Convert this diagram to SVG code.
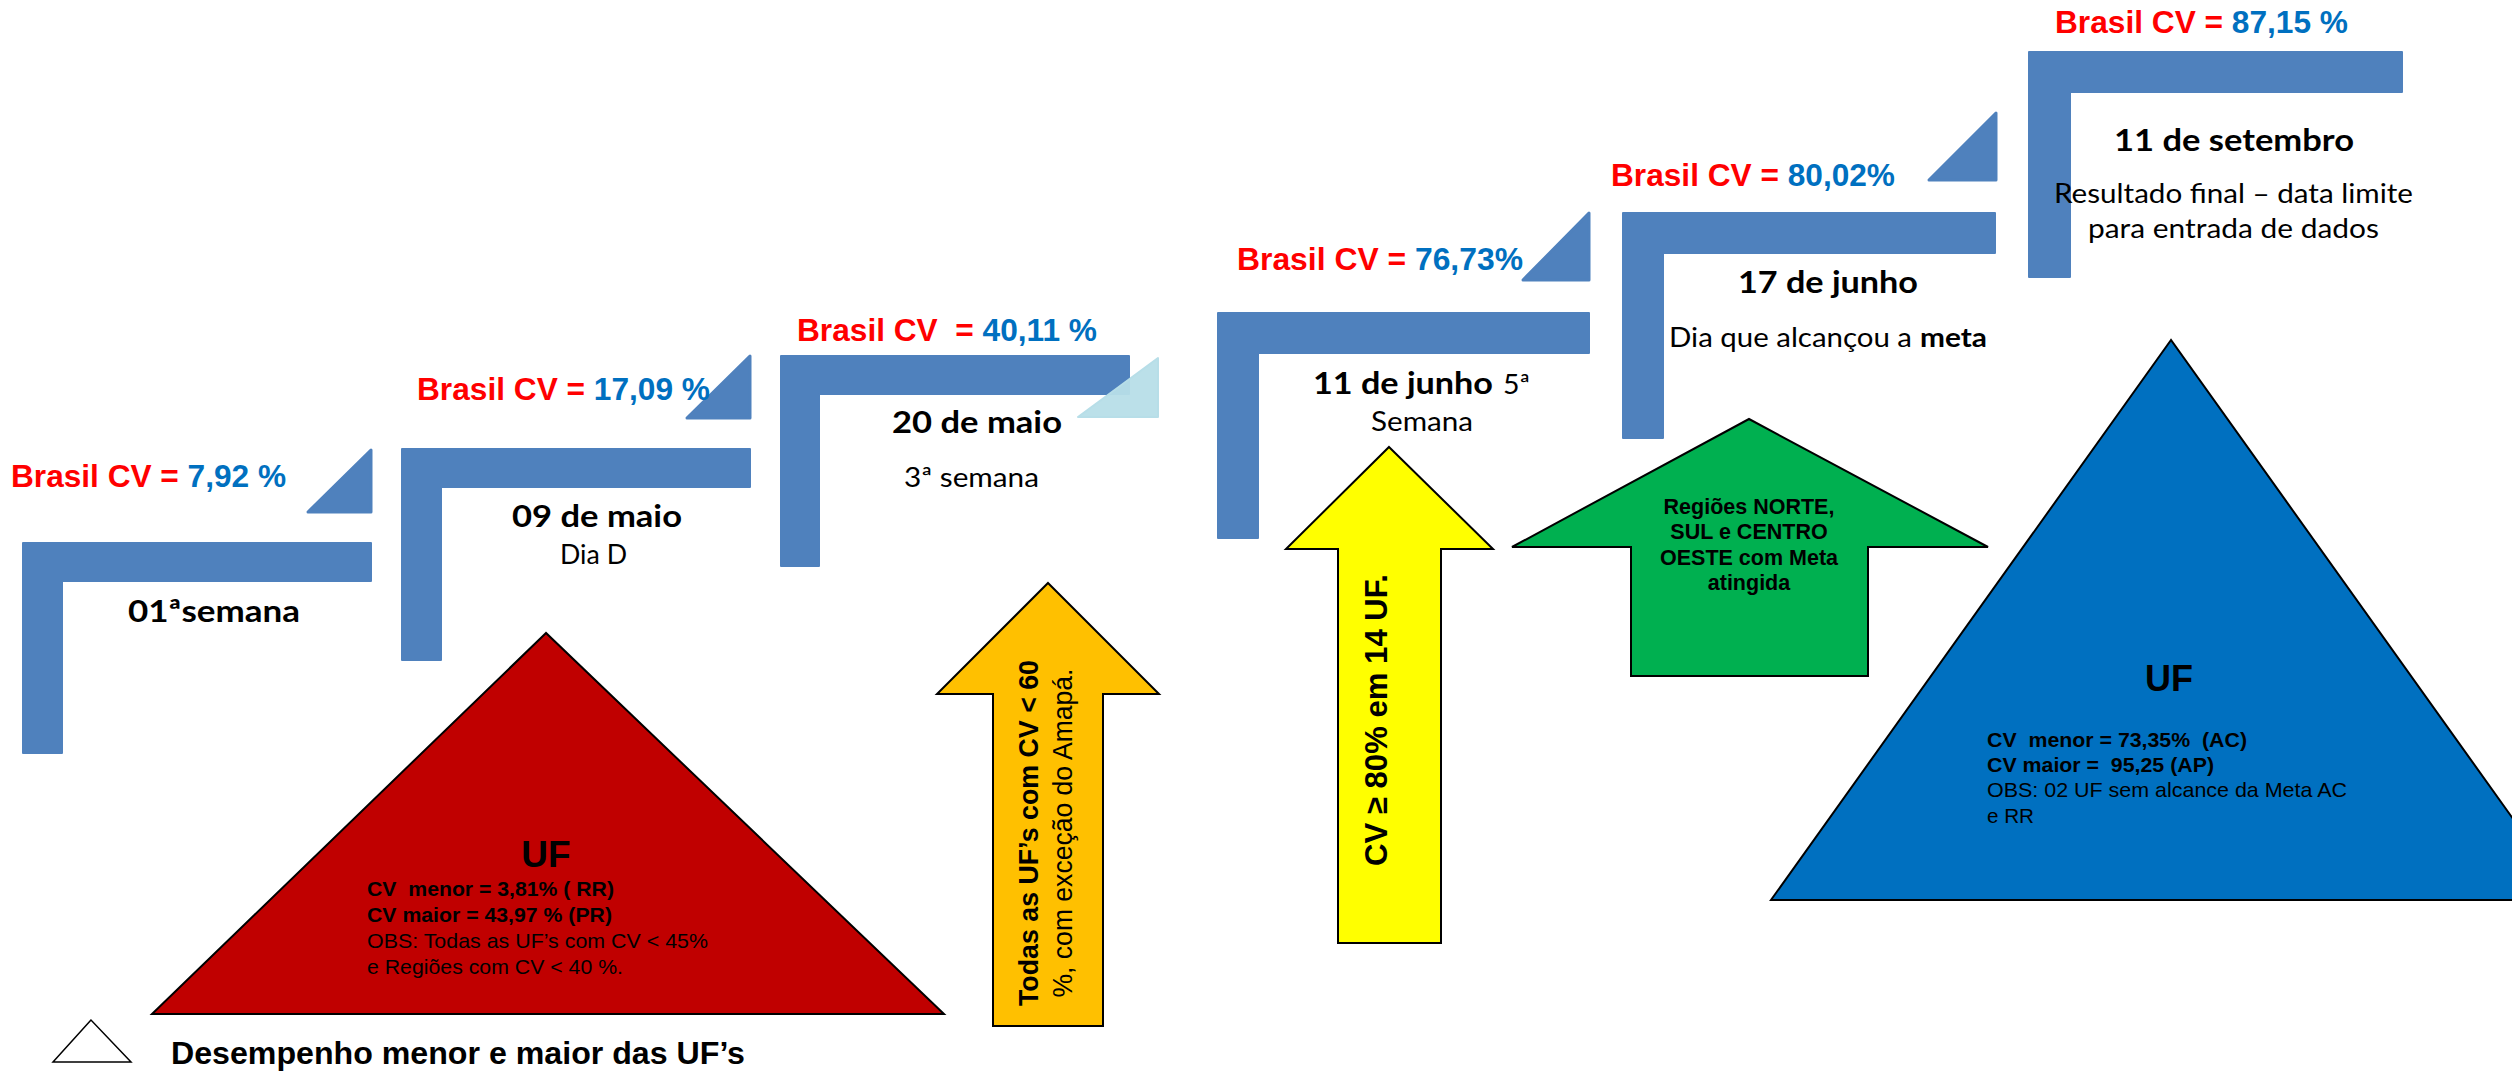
<svg xmlns="http://www.w3.org/2000/svg" width="2512" height="1072" viewBox="0 0 2512 1072">
<style>
.bar{fill:#4F81BD;stroke:#4F81BD;stroke-width:2;stroke-linejoin:round}
.tri{fill:#4F81BD;stroke:#4F81BD;stroke-width:3;stroke-linejoin:round}
.cv{font-family:"Liberation Sans",Arial,sans-serif;font-weight:bold;font-size:32px;fill:#FF0000}
.val{fill:#0070C0}
.cb{font-family:Lato,"Open Sans",sans-serif;font-weight:bold;font-size:31px;fill:#000}
.cr{font-family:Lato,"Open Sans",sans-serif;font-weight:normal;font-size:27px;fill:#000}
.ab{font-family:"Liberation Sans",Arial,sans-serif;font-weight:bold;fill:#000}
.ar{font-family:"Liberation Sans",Arial,sans-serif;font-weight:normal;fill:#000}
.shape{stroke:#000;stroke-width:2;stroke-linejoin:miter}
</style>

<g id="step1">
  <path class="bar" d="M23,543 H371 V581 H62 V753 H23 Z"/>
  <polygon class="tri" points="371,450 371,512 308,512"/>
  <text class="cv" x="11" y="487" textLength="275" lengthAdjust="spacingAndGlyphs">Brasil CV = <tspan class="val">7,92 %</tspan></text>
  <text class="cb" x="128" y="622" textLength="172" lengthAdjust="spacingAndGlyphs">01ªsemana</text>
</g>

<g id="step2">
  <path class="bar" d="M402,449 H750 V487 H441 V660 H402 Z"/>
  <polygon class="tri" points="750,356 750,418 687,418"/>
  <text class="cv" x="417" y="400" textLength="293" lengthAdjust="spacingAndGlyphs">Brasil CV = <tspan class="val">17,09 %</tspan></text>
  <text class="cb" x="512" y="527" textLength="170" lengthAdjust="spacingAndGlyphs">09 de maio</text>
  <text class="cr" x="560" y="564" textLength="67" lengthAdjust="spacingAndGlyphs">Dia D</text>
</g>

<g id="step3">
  <path class="bar" d="M781,356 H1129 V394 H819 V566 H781 Z"/>
  <polygon points="1158,358 1158,417 1078,417" fill="#B7DEE8" fill-opacity="0.95" stroke="#B7DEE8" stroke-width="2" stroke-linejoin="round"/>
  <text class="cv" x="797" y="341" textLength="300" lengthAdjust="spacingAndGlyphs">Brasil CV &#160;= <tspan class="val">40,11 %</tspan></text>
  <text class="cb" x="892" y="433" textLength="170" lengthAdjust="spacingAndGlyphs">20 de maio</text>
  <text class="cr" x="904" y="487" textLength="135" lengthAdjust="spacingAndGlyphs">3ª semana</text>
</g>

<g id="step4">
  <path class="bar" d="M1218,313 H1589 V353 H1258 V538 H1218 Z"/>
  <polygon class="tri" points="1589,213 1589,280 1523,280"/>
  <text class="cv" x="1237" y="270" textLength="286" lengthAdjust="spacingAndGlyphs">Brasil CV = <tspan class="val">76,73%</tspan></text>
  <text class="cb" x="1313" y="394" textLength="180" lengthAdjust="spacingAndGlyphs">11 de junho</text>
  <text class="cr" x="1503" y="394" textLength="27" lengthAdjust="spacingAndGlyphs">5ª</text>
  <text class="cr" x="1371" y="431" textLength="102" lengthAdjust="spacingAndGlyphs">Semana</text>
</g>

<g id="step5">
  <path class="bar" d="M1623,213 H1995 V253 H1663 V438 H1623 Z"/>
  <polygon class="tri" points="1996,113 1996,180 1929,180"/>
  <text class="cv" x="1611" y="186" textLength="284" lengthAdjust="spacingAndGlyphs">Brasil CV = <tspan class="val">80,02%</tspan></text>
  <text class="cb" x="1738" y="293" textLength="180" lengthAdjust="spacingAndGlyphs">17 de junho</text>
  <text class="cr" x="1669" y="347" textLength="243" lengthAdjust="spacingAndGlyphs">Dia que alcançou a</text>
  <text class="cb" x="1920" y="347" textLength="67" lengthAdjust="spacingAndGlyphs" style="font-size:27px">meta</text>
</g>

<g id="step6">
  <path class="bar" d="M2029,52 H2402 V92 H2070 V277 H2029 Z"/>
  <text class="cv" x="2055" y="33" textLength="293" lengthAdjust="spacingAndGlyphs">Brasil CV = <tspan class="val">87,15 %</tspan></text>
  <text class="cb" x="2114" y="151" textLength="240" lengthAdjust="spacingAndGlyphs">11 de setembro</text>
  <text class="cr" x="2054" y="203" textLength="359" lengthAdjust="spacingAndGlyphs">Resultado final – data limite</text>
  <text class="cr" x="2088" y="238" textLength="291" lengthAdjust="spacingAndGlyphs">para entrada de dados</text>
</g>

<g id="red-triangle">
  <polygon class="shape" points="546,633 152,1014 944,1014" fill="#C00000"/>
  <text class="ab" x="546" y="867" text-anchor="middle" style="font-size:37px">UF</text>
  <text class="ab" x="367" y="896" style="font-size:21px" textLength="247" lengthAdjust="spacingAndGlyphs">CV &#160;menor = 3,81% ( RR)</text>
  <text class="ab" x="367" y="922" style="font-size:21px" textLength="245" lengthAdjust="spacingAndGlyphs">CV maior = 43,97 % (PR)</text>
  <text class="ar" x="367" y="948" style="font-size:21px" textLength="341" lengthAdjust="spacingAndGlyphs">OBS: Todas as UF’s com CV &lt; 45%</text>
  <text class="ar" x="367" y="974" style="font-size:21px" textLength="256" lengthAdjust="spacingAndGlyphs">e Regiões com CV &lt; 40 %.</text>
</g>

<g id="orange-arrow">
  <polygon class="shape" points="1048,583 1159,694 1103,694 1103,1026 993,1026 993,694 937,694" fill="#FFC000"/>
  <text class="ab" transform="translate(1038,833) rotate(-90)" text-anchor="middle" style="font-size:28.5px" textLength="346" lengthAdjust="spacingAndGlyphs">Todas as UF’s com CV &lt; 60</text>
  <text class="ar" transform="translate(1072,833) rotate(-90)" text-anchor="middle" style="font-size:28px" textLength="329" lengthAdjust="spacingAndGlyphs">%, com exceção do Amapá.</text>
</g>

<g id="yellow-arrow">
  <polygon class="shape" points="1389,447 1493,549 1441,549 1441,943 1338,943 1338,549 1286,549" fill="#FFFF00"/>
  <text class="ab" transform="translate(1387,720) rotate(-90)" text-anchor="middle" style="font-size:31px" textLength="292" lengthAdjust="spacingAndGlyphs">CV ≥ 80% em 14 UF.</text>
</g>

<g id="green-arrow">
  <polygon class="shape" points="1749,419 1988,547 1868,547 1868,676 1631,676 1631,547 1512,547" fill="#00B050"/>
  <g class="ab" text-anchor="middle" style="font-size:21.5px">
    <text x="1749" y="514">Regiões NORTE,</text>
    <text x="1749" y="539">SUL e CENTRO</text>
    <text x="1749" y="565">OESTE com Meta</text>
    <text x="1749" y="590">atingida</text>
  </g>
</g>

<g id="blue-triangle">
  <polygon class="shape" points="2171,340 1771,900 2571,900" fill="#0070C0"/>
  <text class="ab" x="2169" y="691" text-anchor="middle" style="font-size:36px">UF</text>
  <text class="ab" x="1987" y="747" style="font-size:21px" textLength="260" lengthAdjust="spacingAndGlyphs">CV &#160;menor = 73,35% &#160;(AC)</text>
  <text class="ab" x="1987" y="772" style="font-size:21px" textLength="227" lengthAdjust="spacingAndGlyphs">CV maior = &#160;95,25 (AP)</text>
  <text class="ar" x="1987" y="797" style="font-size:21px" textLength="360" lengthAdjust="spacingAndGlyphs">OBS: 02 UF sem alcance da Meta AC</text>
  <text class="ar" x="1987" y="823" style="font-size:21px" textLength="47" lengthAdjust="spacingAndGlyphs">e RR</text>
</g>

<g id="legend">
  <polygon points="91,1020 53,1062 131,1062" fill="#FFFFFF" stroke="#000" stroke-width="1.5"/>
  <text class="ab" x="171" y="1064" style="font-size:32px" textLength="574" lengthAdjust="spacingAndGlyphs">Desempenho menor e maior das UF’s</text>
</g>

<g id="connectors"></g>
</svg>
